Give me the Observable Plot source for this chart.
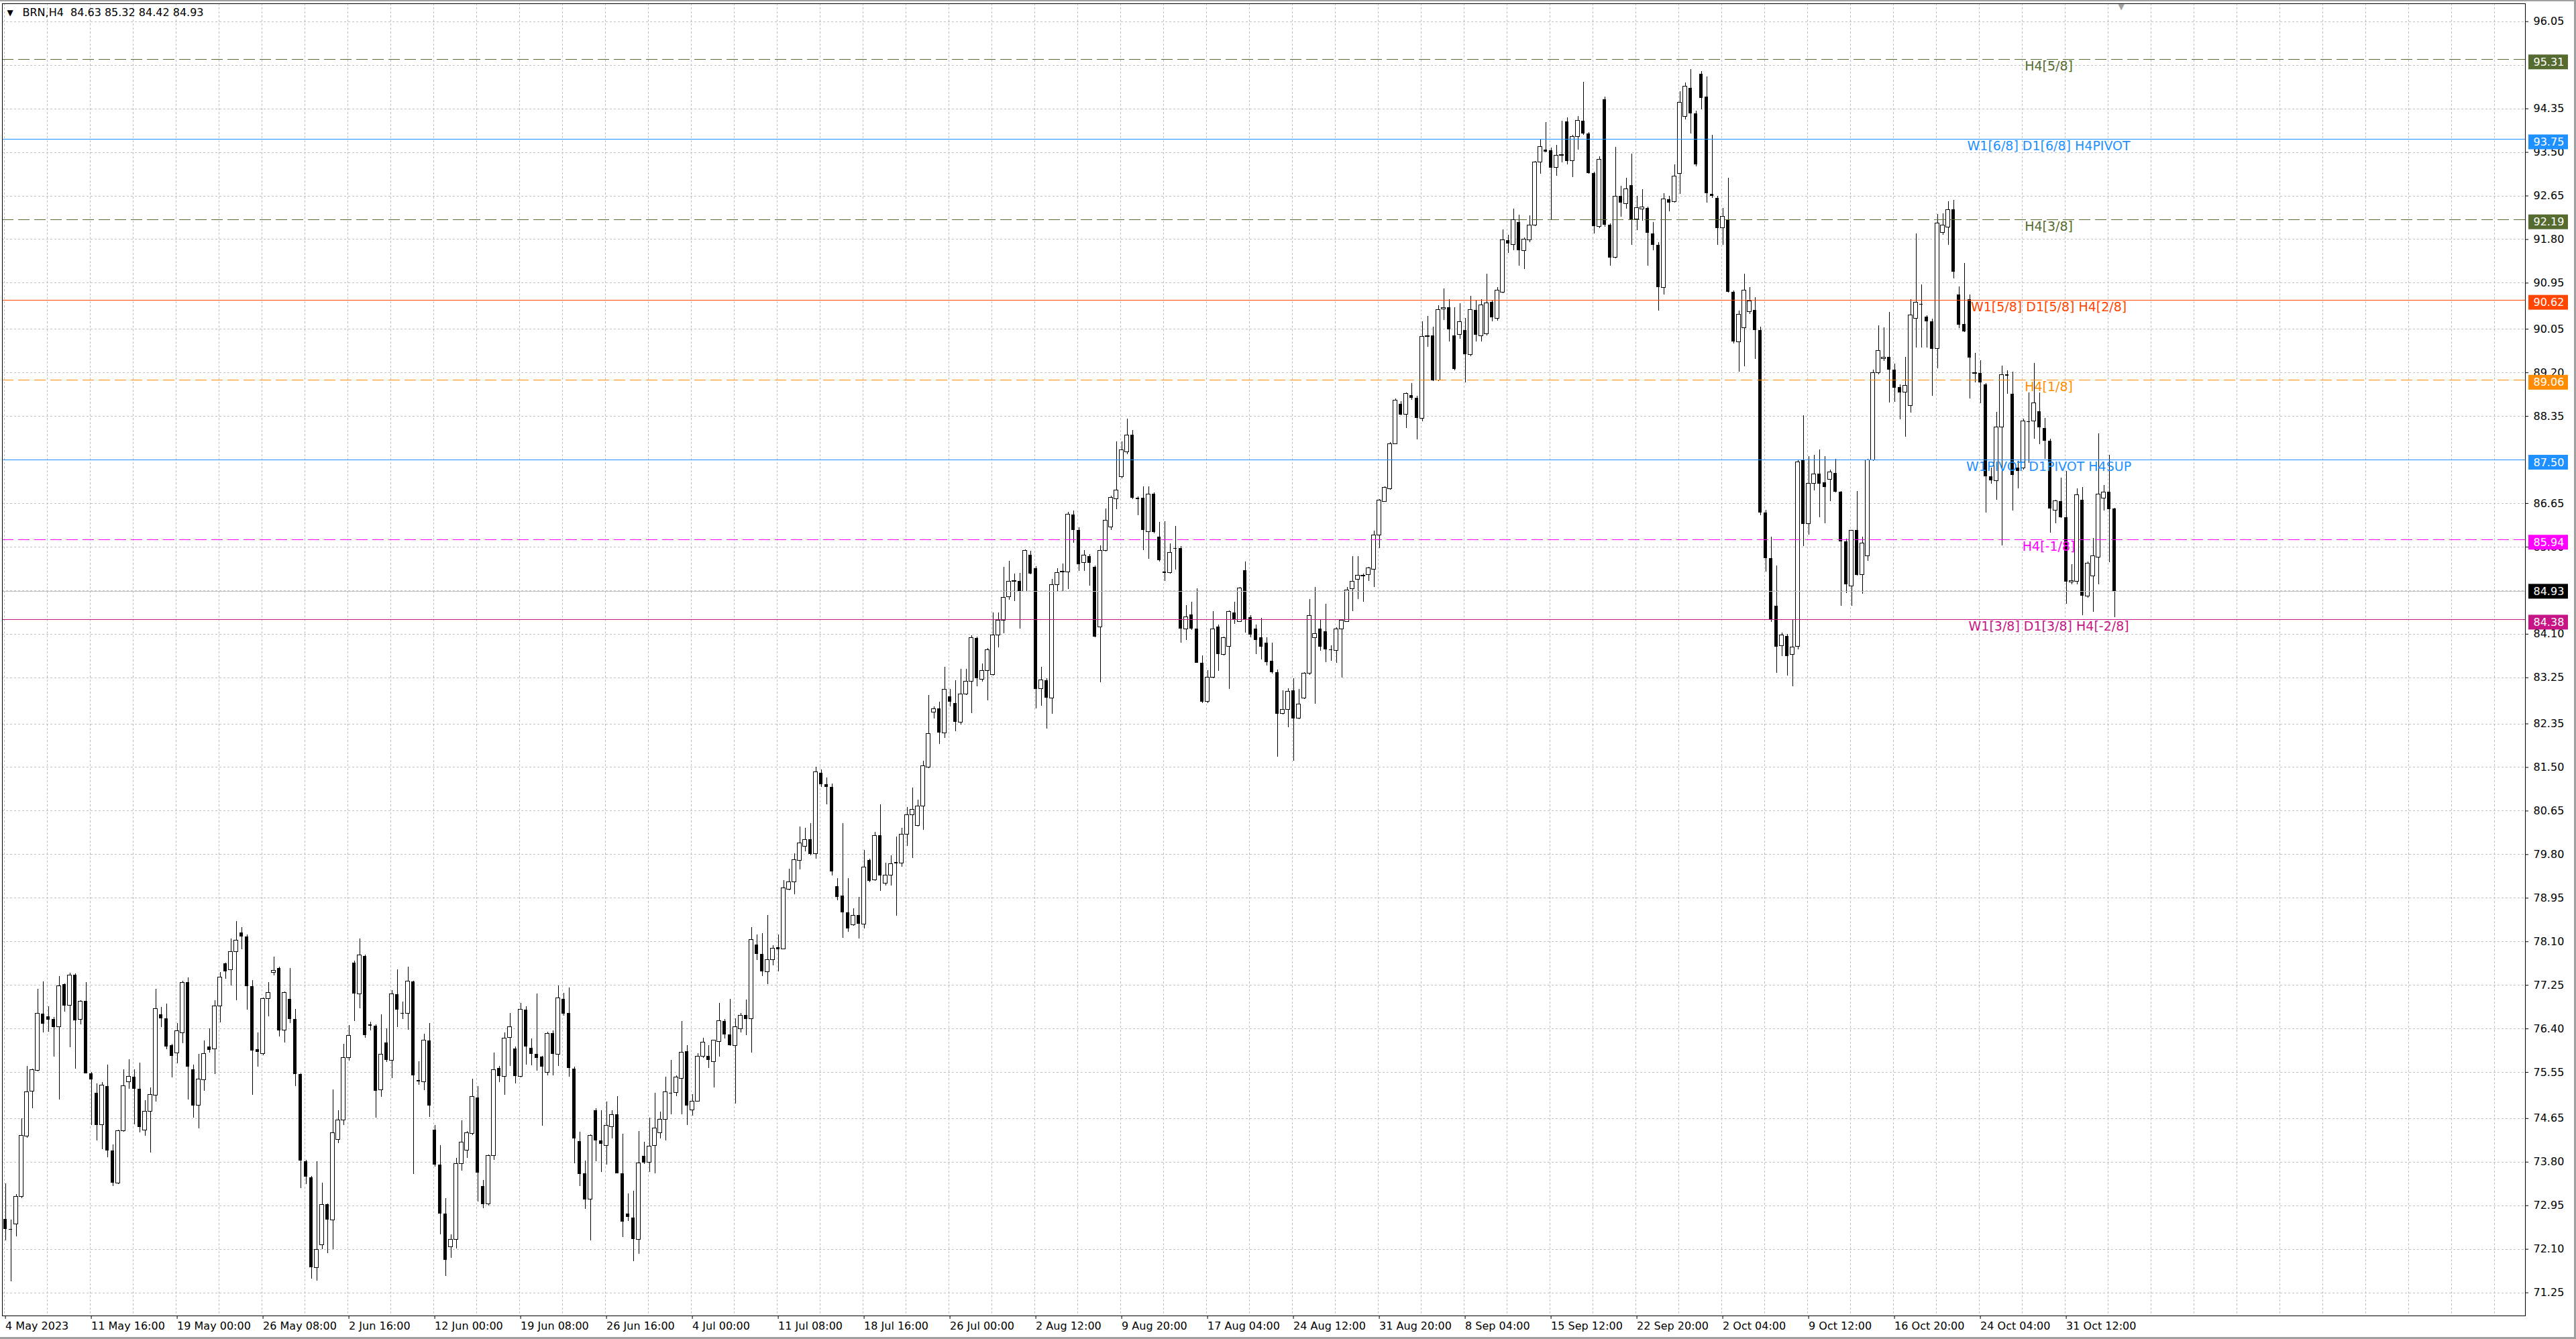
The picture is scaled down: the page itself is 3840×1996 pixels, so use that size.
<!DOCTYPE html>
<html>
<head>
<meta charset="utf-8">
<script src="https://cdn.jsdelivr.net/npm/d3@7"></script>
<script src="https://cdn.jsdelivr.net/npm/@observablehq/plot@0.6"></script>
<style>
html,body{margin:0;padding:0;background:#fff;}
#chart{position:relative;width:3840px;height:1996px;overflow:hidden;background:#fff;}
#chart svg{position:absolute;left:0;top:0;}
.edge{position:absolute;background:#a0a0a0;}
</style>
</head>
<body>
<div id="chart"></div>
<script>
// ---- Data: BRN H4, each candle = two consecutive H4 bars ----
const openP = [
72.69,72.49,72.59,73.12,74.30,75.18,75.58,76.69,76.64,76.59,
76.43,77.26,76.85,77.45,76.58,76.94,75.53,75.15,74.52,75.28,
74.02,73.38,74.40,75.36,75.46,75.23,74.42,74.78,75.10,76.67,
76.60,76.07,75.93,76.32,77.30,75.60,74.90,75.40,76.05,76.00,
76.84,77.67,77.55,77.90,78.27,78.20,77.23,76.00,75.91,76.99,
77.50,77.58,76.37,76.98,76.59,75.51,73.81,73.49,71.73,72.18,
72.97,72.67,74.23,74.61,75.83,77.69,77.07,77.82,76.48,76.45,
75.20,76.13,75.78,77.07,76.70,76.69,77.32,75.40,75.36,76.17,
74.43,73.74,72.79,72.14,72.28,73.76,74.03,74.35,75.06,73.33,
72.98,73.92,75.63,75.47,76.22,76.01,75.47,76.77,76.02,75.90,
75.85,75.55,76.31,75.90,76.98,76.70,75.62,74.20,73.57,73.07,
74.81,74.21,74.12,74.48,74.72,73.58,72.79,72.71,72.28,73.92,
73.79,74.12,74.36,74.63,75.15,75.15,75.43,75.96,74.81,74.98,
75.86,75.86,75.76,76.15,76.55,76.28,76.07,76.40,76.66,76.59,
78.04,77.85,77.51,77.74,77.99,77.95,79.12,79.26,79.68,79.96,
80.09,79.81,81.39,81.17,81.11,79.17,78.99,78.66,78.42,78.61,
78.44,79.69,79.30,80.17,79.23,79.39,79.65,79.63,80.19,80.57,
80.36,80.74,81.50,82.57,82.64,82.17,82.88,82.75,82.38,82.93,
83.18,84.02,83.22,83.38,83.30,84.08,84.36,84.82,85.13,85.13,
84.93,85.64,85.38,83.03,83.20,82.85,85.06,85.31,85.31,86.43,
86.13,85.49,85.61,85.41,84.23,85.73,86.18,86.74,87.16,87.65,
87.98,86.76,86.76,86.09,86.83,85.99,85.31,85.29,85.77,85.77,
84.20,84.48,84.20,83.54,82.78,83.25,84.24,83.70,83.85,84.52,
84.34,85.34,84.43,84.20,84.03,83.93,83.58,83.35,82.54,82.63,
83.00,82.45,82.85,83.33,84.03,84.20,84.15,83.80,83.78,84.20,
84.34,84.98,85.16,85.23,85.26,85.36,86.03,86.68,86.93,87.81,
88.59,88.38,88.76,88.70,88.31,89.90,89.92,89.05,90.44,90.47,
89.92,89.94,90.02,89.55,90.42,89.92,89.96,90.57,90.26,90.77,
91.78,91.69,92.13,91.58,91.78,92.08,93.30,93.55,93.53,93.20,
93.43,94.10,93.33,93.80,94.11,93.86,93.09,92.05,94.53,92.08,
91.44,92.64,92.49,92.85,92.19,92.39,92.41,91.91,91.69,90.86,
92.58,92.53,93.08,94.20,94.75,94.25,95.03,94.58,92.68,92.61,
92.02,92.19,90.77,89.80,90.07,90.38,90.42,90.02,86.46,85.58,
84.65,83.87,84.06,83.70,83.85,87.49,86.25,87.03,87.22,87.06,
87.12,87.24,86.87,85.90,85.03,86.12,85.25,85.62,87.49,89.19,
89.47,89.50,89.25,88.91,88.81,88.55,90.25,90.54,90.29,90.19,
89.66,91.93,92.04,92.38,90.72,90.14,90.63,89.19,89.19,88.97,
87.17,87.09,88.13,89.16,88.78,87.34,87.34,88.25,88.25,88.44,
88.11,87.87,86.51,86.69,86.37,85.12,85.12,86.72,84.84,85.23,
85.59,86.75,86.87,86.55];
const highP = [
73.38,72.67,73.17,74.65,75.67,75.62,77.18,77.32,76.83,76.62,
77.42,77.28,77.49,77.47,76.95,77.30,75.55,75.33,75.36,75.70,
74.14,74.42,75.60,75.80,75.60,75.73,75.00,75.25,77.18,76.82,
76.89,76.10,76.50,77.33,77.39,75.70,75.91,76.17,76.40,76.95,
77.50,77.69,78.15,78.50,78.38,78.23,77.35,76.32,77.00,77.30,
77.80,77.60,77.12,77.58,76.78,75.53,73.83,73.52,73.81,73.39,
72.98,75.21,74.80,76.10,76.47,77.73,78.15,77.84,76.53,76.48,
76.68,76.40,77.15,77.55,76.93,77.60,77.33,75.76,76.30,76.50,
74.52,74.13,73.09,72.38,73.88,74.61,74.40,75.42,75.28,73.44,
73.94,75.93,75.67,76.32,76.70,76.05,76.90,76.83,76.20,77.08,
75.86,76.33,76.36,77.24,77.10,77.20,75.66,74.38,73.82,74.33,
74.85,74.80,74.98,74.80,75.08,74.35,73.18,73.23,74.40,74.19,
74.66,75.15,74.78,75.46,75.78,75.48,76.55,76.08,75.12,75.92,
76.22,76.07,76.18,76.90,76.58,76.98,76.60,76.70,76.96,78.38,
78.24,78.26,78.61,78.03,78.23,79.30,79.52,79.82,80.34,80.31,
80.41,81.51,81.46,81.29,81.18,79.33,80.41,79.33,78.74,78.97,
79.88,79.71,80.24,80.77,79.64,79.78,80.14,80.32,80.72,81.10,
80.86,81.63,82.90,82.68,82.78,83.45,83.02,83.19,83.42,83.42,
84.07,84.04,83.52,83.82,84.51,84.51,85.41,85.53,85.27,85.29,
85.74,85.72,85.42,83.45,83.23,85.17,85.38,85.47,86.48,86.50,
86.18,85.73,85.66,85.43,85.83,86.54,86.79,87.86,87.85,88.30,
88.08,86.78,86.98,86.98,86.86,86.28,86.29,85.86,86.21,85.81,
84.66,84.73,84.99,83.68,83.39,84.54,84.28,84.05,84.56,84.72,
85.01,85.51,84.46,84.28,84.41,84.03,83.93,83.40,83.00,83.04,
83.24,83.03,83.35,84.78,85.01,84.39,84.68,83.88,84.23,84.38,
85.01,85.61,85.61,85.28,85.41,86.11,86.73,86.98,87.84,88.69,
88.64,88.81,88.99,88.74,90.20,90.30,90.09,90.51,90.84,90.63,
90.47,90.55,90.26,90.69,90.61,90.63,91.13,90.61,90.86,91.99,
91.88,92.39,92.28,91.83,92.26,93.33,93.75,94.08,93.58,93.64,
94.11,94.18,93.83,94.20,94.87,93.89,93.11,93.41,94.58,92.11,
93.60,92.84,93.00,93.47,92.64,92.78,92.44,92.13,91.74,92.69,
92.64,93.26,94.68,94.86,95.12,94.31,95.08,94.97,93.83,92.64,
92.41,93.00,90.80,90.41,91.13,90.86,90.67,90.09,86.52,86.00,
85.43,84.12,84.10,84.37,87.50,88.36,87.57,87.59,87.70,87.56,
87.31,87.51,86.89,85.95,86.13,86.89,86.00,87.51,89.25,90.12,
90.08,90.38,89.37,88.97,89.50,90.63,91.91,90.91,90.32,90.25,
92.29,92.31,92.54,92.57,90.88,91.33,90.72,89.58,89.44,88.99,
87.34,88.43,89.33,89.24,89.22,87.47,88.30,88.81,89.39,88.81,
88.31,87.91,86.72,87.15,87.28,85.46,86.94,86.97,85.51,85.97,
88.01,87.00,87.59,86.56];
const lowP = [
72.27,71.47,72.34,73.09,74.27,74.85,75.56,76.32,76.33,75.85,
75.02,76.73,76.03,75.61,76.48,75.52,74.52,74.22,74.04,73.89,
73.33,73.37,74.38,75.22,74.53,74.37,74.31,73.98,74.97,76.43,
76.00,75.45,75.72,76.12,75.02,74.66,74.45,75.18,75.93,75.51,
76.52,77.37,77.24,76.95,77.95,76.77,75.10,75.65,75.88,76.64,
77.44,76.25,76.13,76.50,75.27,73.29,73.37,71.52,71.48,72.09,
72.02,72.09,74.16,74.52,75.77,76.55,76.79,76.22,76.36,74.66,
75.07,75.75,75.43,76.43,76.59,76.38,73.56,75.30,75.20,74.68,
73.71,72.39,71.57,71.92,72.11,73.63,73.88,74.32,73.02,72.89,
72.94,73.83,75.36,75.11,75.67,75.33,75.45,75.70,75.68,75.58,
74.51,75.48,75.48,75.67,76.65,75.46,73.77,73.33,72.88,72.27,
73.81,73.60,73.74,74.25,73.57,72.33,72.64,71.86,72.01,73.76,
73.60,73.57,74.26,74.22,74.72,75.08,74.73,74.52,74.70,74.97,
75.82,75.63,75.25,75.85,76.20,76.06,74.93,76.32,76.27,75.93,
77.74,77.42,77.27,77.63,77.51,77.94,79.10,79.02,79.50,79.86,
79.78,79.71,81.11,80.77,79.39,78.90,78.17,78.28,78.40,78.16,
78.35,79.26,79.28,79.09,79.19,79.19,78.60,79.55,79.96,79.73,
80.34,80.27,81.48,82.45,81.95,82.07,82.68,82.20,82.33,82.90,
82.55,83.07,83.17,82.80,83.29,83.84,84.11,84.76,84.74,84.20,
84.92,85.26,82.64,82.70,82.25,82.54,84.93,84.93,84.98,85.88,
85.33,85.33,85.04,84.03,83.15,85.71,86.13,86.53,87.13,87.61,
86.73,86.41,85.73,85.56,86.06,85.51,85.13,85.28,85.36,83.93,
83.98,84.18,83.53,82.75,82.75,83.23,83.38,83.68,83.03,84.30,
84.33,84.13,84.03,83.70,83.60,83.48,83.33,81.70,82.53,82.28,
81.63,82.43,82.83,83.30,82.73,83.77,83.55,83.58,83.53,83.25,
84.33,84.54,84.78,84.72,85.13,85.01,85.77,86.67,86.91,87.80,
88.36,88.11,88.66,87.89,88.25,89.70,89.03,89.03,90.22,89.80,
89.24,89.86,89.00,89.52,89.80,89.80,89.92,90.19,90.21,90.74,
91.53,91.58,91.28,91.22,91.74,92.05,93.08,93.50,92.18,93.03,
93.30,93.26,93.01,93.55,93.83,93.08,91.91,92.01,92.04,91.28,
91.43,92.24,92.39,91.69,91.97,92.16,91.28,91.59,90.41,90.72,
92.34,92.51,92.68,94.14,93.86,93.22,94.33,92.51,92.61,91.69,
91.69,90.76,89.77,89.21,89.32,90.34,89.46,86.42,85.32,84.33,
83.34,83.66,83.29,83.08,83.79,85.81,86.03,86.90,86.38,86.26,
86.69,86.86,84.65,84.90,84.65,85.23,84.88,85.53,87.47,89.16,
89.43,88.61,88.63,88.28,87.94,88.41,89.69,89.69,89.69,88.74,
89.28,91.88,91.69,91.04,90.07,89.99,88.69,89.00,88.60,86.47,
87.03,86.72,85.82,88.78,86.51,86.94,87.31,87.44,87.91,87.80,
87.51,86.07,86.26,86.36,84.68,85.06,85.07,84.46,84.81,84.53,
85.06,86.50,85.50,84.42];
const closeP = [
72.49,72.47,73.12,74.32,75.16,75.60,76.70,76.49,76.57,76.43,
77.23,76.85,77.44,76.56,76.93,75.53,75.41,74.52,75.30,74.02,
73.39,74.40,75.28,75.46,75.23,74.48,74.78,75.11,76.79,76.60,
76.05,75.87,76.35,77.30,75.66,74.90,75.41,75.91,75.98,76.84,
77.40,77.52,77.90,78.12,78.20,77.23,75.97,75.95,76.99,77.10,
77.54,76.36,77.10,76.58,75.51,73.82,73.51,71.74,72.09,72.97,
72.67,74.36,74.61,75.83,76.26,77.08,77.83,76.27,76.45,75.18,
75.90,75.78,77.07,76.77,76.69,77.33,75.49,75.37,76.17,74.90,
73.74,72.79,71.88,72.28,73.76,74.18,74.36,75.07,73.59,72.97,
73.92,75.60,75.47,76.21,76.43,75.47,76.77,76.05,75.90,75.83,
75.65,76.31,75.91,77.00,76.69,75.63,74.25,73.56,73.07,74.32,
74.21,74.15,74.51,74.72,73.58,72.63,72.72,72.29,73.78,73.78,
74.11,74.46,74.63,75.16,75.13,75.45,75.94,74.90,74.98,75.86,
76.13,75.78,76.17,76.55,76.28,76.07,76.43,76.66,76.58,78.13,
77.85,77.52,77.74,77.97,77.95,79.14,79.26,79.69,80.02,80.09,
79.81,81.41,81.17,81.11,79.46,78.97,78.67,78.35,78.61,78.44,
79.55,79.28,80.17,79.38,79.39,79.62,79.62,80.19,80.57,80.67,
80.74,81.53,82.15,82.64,82.17,83.02,82.77,82.38,82.93,83.18,
84.03,83.23,83.39,83.79,84.08,84.36,84.81,85.12,85.13,84.93,
85.73,85.28,83.03,83.20,82.85,85.06,85.29,85.32,86.43,86.13,
85.46,85.63,85.49,84.04,85.73,86.31,86.76,86.91,87.69,87.98,
86.76,86.73,86.13,86.83,86.09,85.54,85.29,85.69,85.76,84.20,
84.43,84.20,83.54,82.78,83.25,84.20,83.70,84.03,84.53,84.38,
84.99,84.38,84.08,83.98,83.85,83.55,83.35,82.54,82.63,82.98,
82.45,82.73,83.33,84.46,84.11,83.85,83.80,83.78,84.20,84.36,
84.96,85.13,85.24,85.24,85.38,86.03,86.71,86.96,87.81,88.66,
88.38,88.79,88.70,88.31,89.90,89.92,89.05,90.42,90.47,90.04,
89.27,90.19,89.55,90.42,89.94,90.52,90.55,90.27,90.80,91.78,
91.72,92.18,91.59,91.80,92.08,93.30,93.60,93.51,93.20,93.43,
93.45,93.33,93.80,94.11,93.86,93.09,92.05,93.36,92.08,91.44,
92.64,92.51,92.78,92.18,92.41,92.43,91.92,91.69,90.86,92.59,
92.51,93.03,94.47,94.78,94.25,93.26,94.55,92.69,92.64,92.01,
92.24,90.77,89.80,90.34,90.80,90.59,90.02,86.46,85.58,84.37,
83.85,84.08,83.67,83.84,87.46,86.25,87.03,87.22,87.03,86.97,
87.26,86.87,85.90,85.07,86.12,85.25,85.87,87.49,89.19,89.63,
89.49,89.25,88.90,88.81,88.94,90.32,90.57,90.52,90.19,89.66,
92.12,92.08,92.38,91.16,90.13,90.00,89.49,89.19,89.01,87.17,
87.09,88.14,89.16,89.13,87.20,87.28,88.25,88.24,88.61,88.13,
87.87,86.55,86.69,86.37,85.12,85.13,86.81,84.84,85.48,85.62,
86.82,86.87,86.53,84.93];

const timeLabels = ["4 May 2023","11 May 16:00","19 May 00:00","26 May 08:00","2 Jun 16:00",
  "12 Jun 00:00","19 Jun 08:00","26 Jun 16:00","4 Jul 00:00","11 Jul 08:00","18 Jul 16:00",
  "26 Jul 00:00","2 Aug 12:00","9 Aug 20:00","17 Aug 04:00","24 Aug 12:00","31 Aug 20:00",
  "8 Sep 04:00","15 Sep 12:00","22 Sep 20:00","2 Oct 04:00","9 Oct 12:00","16 Oct 20:00",
  "24 Oct 04:00","31 Oct 12:00"];
const priceTicks = [96.05,95.20,94.35,93.50,92.65,91.80,90.95,90.05,89.20,88.35,87.50,86.65,
  85.80,84.95,84.10,83.25,82.35,81.50,80.65,79.80,78.95,78.10,77.25,76.40,75.55,74.65,73.80,
  72.95,72.10,71.25];
const levelPrices = [95.31,93.75,92.19,90.62,89.06,87.50,85.94,84.93,84.38];
const levelNames = ["H4[5/8]","W1[6/8] D1[6/8] H4PIVOT","H4[3/8]","W1[5/8] D1[5/8] H4[2/8]",
  "H4[1/8]","W1PIVOT D1PIVOT H4SUP","H4[-1/8]","","W1[3/8] D1[3/8] H4[-2/8]"];
const levelColors = ["#556B2F","#1E90FF","#556B2F","#FF4500","#FF8C00","#1E90FF","#FF00FF","#C0C0C0","#C71585"];
const boxColors = ["#556B2F","#1E90FF","#556B2F","#FF4500","#FF8C00","#1E90FF","#FF00FF","#000000","#C71585"];
const levelDashed = [true,false,true,false,true,false,true,false,false];
const headerText = "BRN,H4  84.63 85.32 84.42 84.93";

// ---- layout constants (style) ----
const BARS_PER_CANDLE = 2, LABEL_EVERY = 32, GRID_EVERY = 16;
const halfBody = 0.7;           // in bar units
const minBody = 0.014;          // min visible body (price units)
const labelBar = 762;           // center of level labels
const boxX1 = 940.85, boxX2 = 955.6, boxTextX = 942.6, boxHalf = 11 / 76.4;
const objectBoxDy = 4;          // object price boxes sit slightly below their line

const candles = openP.map((o, j) => ({b: BARS_PER_CANDLE * j + 0.5, o, h: highP[j], l: lowP[j], c: closeP[j]}));
const up = candles.filter(d => d.c >= d.o);
const down = candles.filter(d => d.c < d.o);
const pad = d => Math.max(0, (minBody - Math.abs(d.o - d.c)) / 2);
const lo = d => Math.min(d.o, d.c) - pad(d);
const hi = d => Math.max(d.o, d.c) + pad(d);

const lastClose = closeP[closeP.length - 1];
const levels = levelPrices.map((v, i) => ({v, name: levelNames[i], col: levelColors[i], box: boxColors[i], dashed: levelDashed[i]}));
const objLevels = levels.filter(d => d.v !== lastClose);
const priceLevel = levels.filter(d => d.v === lastClose);
const gridBars = d3.range(0, 940, GRID_EVERY);
const labelBars = timeLabels.map((_, i) => i * LABEL_EVERY);
// tick labels fully covered by a level price box are not drawn (the grid line stays)
const shownTicks = priceTicks.filter(t => !levelPrices.some(v => Math.abs(v - t) < 0.12));

const boxMarks = (data, dy) => [
  Plot.rect(data, {x1: boxX1, x2: boxX2, y1: d => d.v - boxHalf, y2: d => d.v + boxHalf, fill: "box", dy}),
  Plot.text(data, {x: boxTextX, y: "v", text: d => d.v.toFixed(2), fill: "#fff", textAnchor: "start", fontSize: 16, dy})
];

const chart = Plot.plot({
  width: 3840, height: 1996,
  marginTop: 5, marginBottom: 35, marginLeft: 3, marginRight: 76,
  x: {type: "linear", domain: [-0.65, 939.6], axis: null, label: null},
  y: {type: "linear", domain: [70.80, 96.40], axis: null, label: null},
  color: {type: "identity"},
  style: {fontFamily: "'DejaVu Sans', sans-serif", fontSize: "16px", background: "#ffffff", color: "#000"},
  marks: [
    Plot.ruleX(gridBars, {stroke: "#c0c0c0", strokeDasharray: "3,3", shapeRendering: "crispEdges"}),
    Plot.ruleY(priceTicks, {stroke: "#c0c0c0", strokeDasharray: "3,3", shapeRendering: "crispEdges"}),
    Plot.ruleX(candles, {x: "b", y1: "l", y2: "h", stroke: "#000", strokeWidth: 1, shapeRendering: "crispEdges"}),
    Plot.rect(down, {x1: d => d.b - halfBody, x2: d => d.b + halfBody, y1: lo, y2: hi, fill: "#000", shapeRendering: "crispEdges"}),
    Plot.rect(up, {x1: d => d.b - halfBody, x2: d => d.b + halfBody, y1: lo, y2: hi, fill: "#fff", stroke: "#000", strokeWidth: 1, shapeRendering: "crispEdges"}),
    Plot.ruleY(levels.filter(d => d.dashed), {y: "v", stroke: "col", strokeDasharray: "17,7", shapeRendering: "crispEdges"}),
    Plot.ruleY(levels.filter(d => !d.dashed), {y: "v", stroke: "col", shapeRendering: "crispEdges"}),
    Plot.text(levels.filter(d => d.name), {x: labelBar, y: "v", text: "name", fill: "col", fontSize: 19, lineAnchor: "top", dy: 3, textAnchor: "middle"}),
    Plot.axisY(shownTicks, {anchor: "right", label: null, tickSize: 4, tickPadding: 8, tickFormat: d => d.toFixed(2), fontSize: 16}),
    Plot.axisX(labelBars, {anchor: "bottom", label: null, tickSize: 5, tickPadding: 4, tickFormat: d => timeLabels[d / LABEL_EVERY], textAnchor: "start", dx: 2, fontSize: 16}),
    ...boxMarks(objLevels, objectBoxDy),
    ...boxMarks(priceLevel, 0),
    Plot.frame({stroke: "#000", shapeRendering: "crispEdges"}),
    Plot.text(["\u25BC"], {frameAnchor: "top-left", dx: 7, dy: 9, lineAnchor: "top", textAnchor: "start", fontSize: 12, fill: "#000"}),
    Plot.text([headerText], {frameAnchor: "top-left", dx: 30, dy: 7, lineAnchor: "top", textAnchor: "start", fontSize: 16, fill: "#000"}),
    Plot.text(["\u25BC"], {x: 789, y: 96.40, lineAnchor: "top", dy: 0, fontSize: 12, fill: "#a0a0a0"})
  ]
});
const root = document.getElementById("chart");
root.appendChild(chart);
for (const [l, t, w, h] of [[0, 0, 3840, 2], [3837, 0, 3, 1996], [0, 1993, 3840, 3]]) {
  const e = document.createElement("div");
  e.className = "edge";
  Object.assign(e.style, {left: l + "px", top: t + "px", width: w + "px", height: h + "px"});
  root.appendChild(e);
}
</script>
</body>
</html>
